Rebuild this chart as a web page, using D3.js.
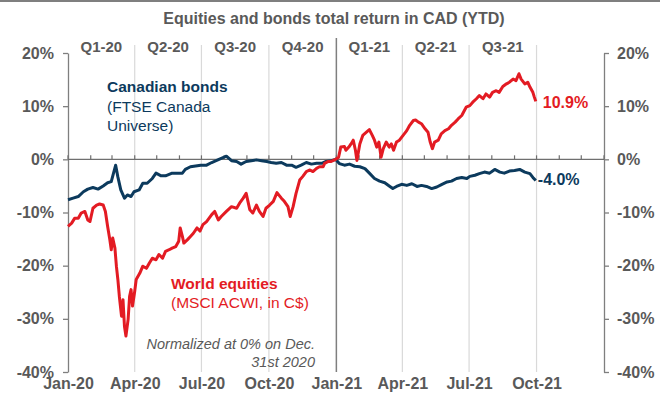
<!DOCTYPE html>
<html>
<head>
<meta charset="utf-8">
<script src="https://cdn.jsdelivr.net/npm/d3@7"></script>
<style>
  body { margin: 0; background: #fff; }
  svg { font-family: "Liberation Sans", Arial, sans-serif; }
</style>
</head>
<body>
<div id="chart"></div>
<script>
(function() {

  var width = 660,
      height = 400

  // Canadian bonds (FTSE Canada Universe), % total return normalized to Dec 31 2020
  var bondSeries = [
    ["2020-01-01", -7.6], ["2020-01-08", -7.3], ["2020-01-15", -7.0], ["2020-01-22", -6.1],
    ["2020-01-28", -5.6], ["2020-02-04", -5.3], ["2020-02-11", -5.6], ["2020-02-18", -5.0],
    ["2020-02-24", -4.4], ["2020-02-29", -4.2], ["2020-03-06", -1.1], ["2020-03-09", -3.3],
    ["2020-03-13", -5.75], ["2020-03-18", -7.3], ["2020-03-22", -6.7], ["2020-03-27", -7.0],
    ["2020-03-31", -6.1], ["2020-04-07", -5.75], ["2020-04-12", -4.5], ["2020-04-18", -4.5],
    ["2020-04-25", -3.6], ["2020-04-30", -2.6], ["2020-05-07", -3.1], ["2020-05-13", -3.1],
    ["2020-05-22", -2.6], ["2020-05-29", -2.6], ["2020-06-05", -2.6], ["2020-06-09", -1.9],
    ["2020-06-16", -1.4], ["2020-06-23", -1.25], ["2020-06-30", -1.1], ["2020-07-08", -1.1],
    ["2020-07-15", -0.6], ["2020-07-21", -0.25], ["2020-07-28", 0.2], ["2020-08-04", 0.6],
    ["2020-08-11", -0.25], ["2020-08-18", -0.4], ["2020-08-24", -0.9], ["2020-08-31", -0.4],
    ["2020-09-07", -0.25], ["2020-09-14", -0.1], ["2020-09-21", -0.25], ["2020-09-28", -0.4],
    ["2020-10-04", -0.6], ["2020-10-11", -0.75], ["2020-10-18", -0.6], ["2020-10-25", -1.1],
    ["2020-11-01", -1.1], ["2020-11-07", -1.5], ["2020-11-14", -1.1], ["2020-11-21", -0.6],
    ["2020-11-28", -0.9], ["2020-12-05", -0.75], ["2020-12-12", -0.75], ["2020-12-18", -0.4],
    ["2020-12-25", -0.25], ["2020-12-31", 0], ["2021-01-05", -0.8], ["2021-01-12", -1.1],
    ["2021-01-19", -0.9], ["2021-01-26", -1.3], ["2021-02-02", -1.4], ["2021-02-09", -1.75],
    ["2021-02-15", -2.6], ["2021-02-22", -3.6], ["2021-03-01", -4.1], ["2021-03-08", -4.4],
    ["2021-03-15", -5.1], ["2021-03-19", -5.5], ["2021-03-24", -5.1], ["2021-03-31", -4.7],
    ["2021-04-07", -4.9], ["2021-04-14", -4.6], ["2021-04-21", -5.1], ["2021-04-27", -4.9],
    ["2021-05-04", -5.1], ["2021-05-11", -5.5], ["2021-05-18", -5.2], ["2021-05-25", -4.7],
    ["2021-06-01", -4.25], ["2021-06-07", -4.1], ["2021-06-14", -3.6], ["2021-06-21", -3.4],
    ["2021-06-28", -3.6], ["2021-07-02", -3.2], ["2021-07-09", -3.0], ["2021-07-15", -2.7],
    ["2021-07-22", -2.4], ["2021-07-29", -2.6], ["2021-08-05", -1.9], ["2021-08-12", -2.4],
    ["2021-08-18", -2.6], ["2021-08-25", -2.2], ["2021-09-01", -2.1], ["2021-09-08", -1.9],
    ["2021-09-15", -2.4], ["2021-09-22", -2.7], ["2021-09-26", -3.4], ["2021-09-30", -4.0]
  ]

  // World equities (MSCI ACWI in C$)
  var equitySeries = [
    ["2020-01-01", -12.6], ["2020-01-06", -12.0], ["2020-01-10", -11.1], ["2020-01-15", -11.1],
    ["2020-01-19", -10.1], ["2020-01-24", -9.8], ["2020-01-28", -11.4], ["2020-01-31", -11.7],
    ["2020-02-04", -9.2], ["2020-02-09", -8.6], ["2020-02-13", -8.4], ["2020-02-18", -8.6],
    ["2020-02-21", -9.8], ["2020-02-24", -12.6], ["2020-02-27", -15.1], ["2020-02-29", -17.0],
    ["2020-03-02", -14.8], ["2020-03-05", -16.7], ["2020-03-07", -20.1], ["2020-03-09", -22.6],
    ["2020-03-11", -25.75], ["2020-03-14", -29.5], ["2020-03-16", -26.4], ["2020-03-18", -31.4],
    ["2020-03-20", -33.25], ["2020-03-23", -30.1], ["2020-03-25", -25.75], ["2020-03-27", -24.5],
    ["2020-03-29", -27.6], ["2020-04-01", -24.8], ["2020-04-03", -22.6], ["2020-04-08", -21.4],
    ["2020-04-12", -20.1], ["2020-04-17", -20.5], ["2020-04-21", -19.5], ["2020-04-25", -18.6],
    ["2020-04-30", -18.9], ["2020-05-04", -17.9], ["2020-05-09", -18.6], ["2020-05-13", -17.3],
    ["2020-05-18", -17.0], ["2020-05-22", -16.7], ["2020-05-27", -16.4], ["2020-05-31", -15.4],
    ["2020-06-02", -12.9], ["2020-06-05", -14.5], ["2020-06-07", -15.75], ["2020-06-12", -15.1],
    ["2020-06-16", -14.5], ["2020-06-20", -13.9], ["2020-06-25", -12.9], ["2020-06-29", -13.5],
    ["2020-07-03", -12.3], ["2020-07-08", -11.7], ["2020-07-15", -10.4], ["2020-07-19", -9.8],
    ["2020-07-24", -11.4], ["2020-07-28", -10.75], ["2020-08-04", -9.8], ["2020-08-11", -8.9],
    ["2020-08-18", -9.2], ["2020-08-22", -8.25], ["2020-08-27", -7.3], ["2020-08-31", -6.4],
    ["2020-09-05", -9.5], ["2020-09-09", -10.1], ["2020-09-14", -8.6], ["2020-09-18", -9.8],
    ["2020-09-23", -10.75], ["2020-09-27", -9.2], ["2020-10-02", -8.6], ["2020-10-07", -7.9],
    ["2020-10-12", -6.25], ["2020-10-18", -7.3], ["2020-10-22", -7.9], ["2020-10-27", -8.9],
    ["2020-10-30", -10.75], ["2020-11-03", -8.9], ["2020-11-07", -6.4], ["2020-11-12", -3.9],
    ["2020-11-16", -3.25], ["2020-11-21", -2.3], ["2020-11-26", -2.0], ["2020-11-30", -2.3],
    ["2020-12-05", -1.7], ["2020-12-09", -1.4], ["2020-12-14", -1.4], ["2020-12-16", -0.75],
    ["2020-12-21", -0.4], ["2020-12-25", -0.4], ["2020-12-31", 0], ["2021-01-04", 0.4],
    ["2021-01-07", 2.3], ["2021-01-12", 2.4], ["2021-01-14", 1.7], ["2021-01-18", 2.3],
    ["2021-01-21", 2.9], ["2021-01-24", 3.6], ["2021-01-27", 1.7], ["2021-01-29", -0.2],
    ["2021-02-02", 2.9], ["2021-02-06", 4.5], ["2021-02-11", 5.1], ["2021-02-15", 5.6],
    ["2021-02-19", 4.5], ["2021-02-22", 3.6], ["2021-02-25", 2.3], ["2021-02-28", 3.25],
    ["2021-03-03", 0.4], ["2021-03-06", 2.0], ["2021-03-10", 3.25], ["2021-03-14", 2.3],
    ["2021-03-17", 2.9], ["2021-03-20", 1.7], ["2021-03-24", 3.25], ["2021-03-28", 3.6],
    ["2021-04-02", 4.5], ["2021-04-07", 5.4], ["2021-04-11", 6.4], ["2021-04-16", 7.3],
    ["2021-04-19", 7.4], ["2021-04-23", 7.0], ["2021-04-27", 6.7], ["2021-05-02", 5.75],
    ["2021-05-06", 5.1], ["2021-05-09", 3.25], ["2021-05-12", 2.0], ["2021-05-15", 3.25],
    ["2021-05-20", 3.6], ["2021-05-24", 4.8], ["2021-05-29", 5.4], ["2021-06-03", 5.75],
    ["2021-06-07", 6.4], ["2021-06-12", 7.0], ["2021-06-16", 7.6], ["2021-06-21", 8.25],
    ["2021-06-27", 9.8], ["2021-07-02", 10.1], ["2021-07-06", 10.75], ["2021-07-11", 11.4],
    ["2021-07-15", 12.0], ["2021-07-20", 11.4], ["2021-07-24", 12.3], ["2021-07-29", 11.7],
    ["2021-08-02", 12.6], ["2021-08-07", 12.9], ["2021-08-11", 12.6], ["2021-08-16", 13.7],
    ["2021-08-21", 14.2], ["2021-08-25", 14.5], ["2021-08-30", 15.1], ["2021-09-03", 14.8],
    ["2021-09-07", 16.1], ["2021-09-10", 15.1], ["2021-09-15", 14.2], ["2021-09-19", 14.5],
    ["2021-09-22", 13.6], ["2021-09-26", 12.6], ["2021-09-28", 11.7], ["2021-09-30", 10.9]
  ]

  var xTickDates = ["2020-01-01", "2020-04-01", "2020-07-01", "2020-10-01",
                    "2021-01-01", "2021-04-01", "2021-07-01", "2021-10-01"]
  var quarterLabels = ["Q1-20", "Q2-20", "Q3-20", "Q4-20", "Q1-21", "Q2-21", "Q3-21"]
  var yTicks = [20, 10, 0, -10, -20, -30, -40]

  var red = "#e31b23",
      navy = "#0c3a5d",
      grey = "#595959"

  var parse = d3.timeParse("%Y-%m-%d")

  var svg = d3.select("#chart")
    .append("svg")
    .attr("width", width)
    .attr("height", height)

  var x = d3.scaleTime()
    .domain([parse("2020-01-01"), parse("2022-01-01")])
    .range([68, 604])

  var y = d3.scaleLinear()
    .domain([-40, 20])
    .range([372, 53])

  // top rule + title
  svg.append("line")
    .attr("x1", 0).attr("x2", width)
    .attr("y1", 1).attr("y2", 1)
    .attr("stroke", "#7f7f7f")
    .attr("stroke-width", 2)

  svg.append("text")
    .attr("x", 334)
    .attr("y", 24)
    .attr("text-anchor", "middle")
    .attr("font-size", 16)
    .attr("font-weight", "bold")
    .attr("fill", grey)
    .text("Equities and bonds total return in CAD (YTD)")

  // quarter gridlines
  var quarters = d3.timeMonth.every(3).range(parse("2020-01-01"), parse("2022-01-01"))
  svg.selectAll(".grid")
    .data(quarters.filter(function(d) {
      return d.getMonth() !== 0
    }))
    .enter().append("line")
    .attr("class", "grid")
    .attr("x1", function(d) { return x(d) })
    .attr("x2", function(d) { return x(d) })
    .attr("y1", 45)
    .attr("y2", y(-40))
    .attr("stroke", "#d9d9d9")
    .attr("stroke-width", 1.2)

  // year separator
  svg.append("line")
    .attr("x1", x(parse("2021-01-01"))).attr("x2", x(parse("2021-01-01")))
    .attr("y1", 38).attr("y2", y(-40))
    .attr("stroke", "#7f7f7f")
    .attr("stroke-width", 1.5)

  // quarter labels
  svg.selectAll(".qlabel")
    .data(quarterLabels)
    .enter().append("text")
    .attr("class", "qlabel")
    .attr("x", function(d, i) {
      return (x(quarters[i]) + x(d3.timeMonth.offset(quarters[i], 3))) / 2
    })
    .attr("y", 47)
    .attr("dy", "0.35em")
    .attr("text-anchor", "middle")
    .attr("font-size", 15)
    .attr("font-weight", "bold")
    .attr("fill", grey)
    .text(function(d) { return d })

  // y axes
  var leftAxis = d3.axisLeft(y)
    .tickValues(yTicks)
    .tickFormat(function(d) { return d + "%" })
    .tickSize(5)
    .tickSizeOuter(0)
    .tickPadding(9)

  var rightAxis = d3.axisRight(y)
    .tickValues(yTicks)
    .tickFormat(function(d) { return d + "%" })
    .tickSize(5)
    .tickSizeOuter(0)
    .tickPadding(8)

  svg.append("g")
    .attr("class", "axis")
    .attr("transform", "translate(" + x.range()[0] + ",0)")
    .call(leftAxis)

  svg.append("g")
    .attr("class", "axis")
    .attr("transform", "translate(" + x.range()[1] + ",0)")
    .call(rightAxis)

  svg.selectAll(".axis path, .axis line")
    .attr("stroke", "#7f7f7f")
    .attr("stroke-width", 1.3)

  svg.selectAll(".axis text")
    .attr("font-family", "Liberation Sans, Arial, sans-serif")
    .attr("font-size", 16)
    .attr("font-weight", "bold")
    .attr("fill", grey)

  // x axis labels
  var bottomAxis = d3.axisBottom(x)
    .tickValues(xTickDates.map(parse))
    .tickFormat(d3.timeFormat("%b-%y"))
    .tickSize(0)
    .tickPadding(6)

  var xg = svg.append("g")
    .attr("transform", "translate(0," + y(-40) + ")")
    .call(bottomAxis)
  xg.select(".domain").remove()
  xg.selectAll("text")
    .attr("font-family", "Liberation Sans, Arial, sans-serif")
    .attr("font-size", 16)
    .attr("font-weight", "bold")
    .attr("fill", grey)

  // zero line with monthly ticks
  svg.append("line")
    .attr("x1", x.range()[0]).attr("x2", x.range()[1])
    .attr("y1", y(0)).attr("y2", y(0))
    .attr("stroke", "#6f6f6f")
    .attr("stroke-width", 1.3)

  svg.selectAll(".mtick")
    .data(d3.timeMonth.range(parse("2020-01-01"), parse("2022-01-02")))
    .enter().append("line")
    .attr("class", "mtick")
    .attr("x1", function(d) { return x(d) })
    .attr("x2", function(d) { return x(d) })
    .attr("y1", y(0))
    .attr("y2", y(0) - 4)
    .attr("stroke", "#6f6f6f")
    .attr("stroke-width", 1.2)

  // series
  var line = d3.line()
    .x(function(d) { return x(parse(d[0])) })
    .y(function(d) { return y(d[1]) })

  svg.append("path")
    .datum(bondSeries)
    .attr("d", line)
    .attr("fill", "none")
    .attr("stroke", navy)
    .attr("stroke-width", 3)
    .attr("stroke-linejoin", "round")

  svg.append("path")
    .datum(equitySeries)
    .attr("d", line)
    .attr("fill", "none")
    .attr("stroke", red)
    .attr("stroke-width", 3)
    .attr("stroke-linejoin", "round")

  // end labels
  var lastEq = equitySeries[equitySeries.length - 1],
      lastBond = bondSeries[bondSeries.length - 1]

  svg.append("text")
    .attr("x", x(parse(lastEq[0])) + 7)
    .attr("y", y(lastEq[1]) + 1)
    .attr("dy", "0.35em")
    .attr("font-size", 16)
    .attr("font-weight", "bold")
    .attr("fill", red)
    .text(lastEq[1].toFixed(1) + "%")

  svg.append("text")
    .attr("x", x(parse(lastBond[0])) + 2)
    .attr("y", y(lastBond[1]) - 1)
    .attr("dy", "0.35em")
    .attr("font-size", 16)
    .attr("font-weight", "bold")
    .attr("fill", navy)
    .text(lastBond[1].toFixed(1) + "%")

  // annotations
  var bondNote = svg.append("text")
    .attr("font-size", 15.5)
    .attr("fill", navy)
  bondNote.append("tspan").attr("x", 107).attr("y", 92).attr("font-weight", "bold").text("Canadian bonds")
  bondNote.append("tspan").attr("x", 107).attr("y", 112).text("(FTSE Canada")
  bondNote.append("tspan").attr("x", 107).attr("y", 131).text("Universe)")

  var eqNote = svg.append("text")
    .attr("font-size", 15.5)
    .attr("fill", red)
  eqNote.append("tspan").attr("x", 171).attr("y", 289).attr("font-weight", "bold").text("World equities")
  eqNote.append("tspan").attr("x", 171).attr("y", 308).text("(MSCI ACWI, in C$)")

  var norm = svg.append("text")
    .attr("font-size", 14.5)
    .attr("font-style", "italic")
    .attr("fill", grey)
    .attr("text-anchor", "end")
  norm.append("tspan").attr("x", 315).attr("y", 349).text("Normalized at 0% on Dec.")
  norm.append("tspan").attr("x", 315).attr("y", 367).text("31st 2020")

})()
</script>
</body>
</html>
